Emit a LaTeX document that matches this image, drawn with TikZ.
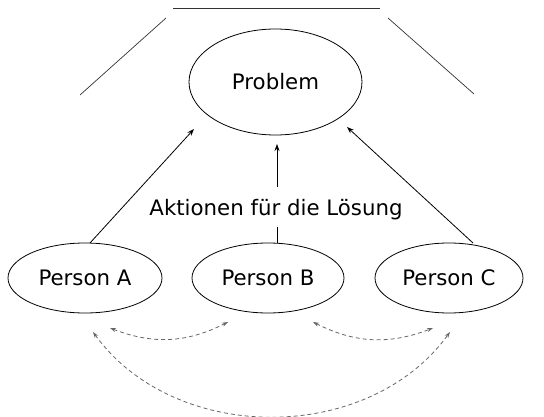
\documentclass[tikz,border=0pt]{standalone}
\usepackage{fontspec}
\setmainfont{DejaVu Sans}
\usetikzlibrary{shapes.geometric,arrows.meta}
\begin{document}
\begin{tikzpicture}[x=1pt,y=1pt,
  every node/.style={font=\fontsize{21.3}{25}\selectfont},
  oval/.style={draw,ellipse,inner sep=0pt,line width=0.8pt},
  flow/.style={line width=0.8pt,-{Stealth[length=7pt,width=5pt]}},
  plain/.style={line width=0.8pt},
  relation/.style={gray!80!black,dashed,dash pattern=on 4pt off 3pt,line width=0.8pt,
    {Stealth[length=6pt,width=4pt]}-{Stealth[length=6pt,width=4pt]}},
  frame/.style={line width=0.7pt,black!80}]
\useasboundingbox (0,0) rectangle (544,-417);

% frame strokes above the problem
\draw[frame] (173,-8) -- (380,-8);
\draw[frame] (166,-18) -- (80,-95);
\draw[frame] (388,-18) -- (474,-94);

% nodes
\node[oval,minimum width=173pt,minimum height=106pt] (P) at (275.5,-82) {Problem};
\node[oval,minimum width=154pt,minimum height=70pt] (A) at (85,-278) {Person A};
\node[oval,minimum width=152pt,minimum height=70pt] (B) at (268,-278) {Person B};
\node[oval,minimum width=148pt,minimum height=70pt] (C) at (449,-278) {Person C};
\node[inner sep=0pt] (L) at (276,-210) {Aktionen für die Lösung};

% arrow targets below the problem
\coordinate (tA) at (194,-129);
\coordinate (tB) at (277,-144);
\coordinate (tC) at (347,-127);
\coordinate (sA) at (90,-243);
\coordinate (sB) at (277,-243);
\coordinate (sC) at (473,-243);

\draw[flow] (sA) -- (tA);
\draw[flow] (sC) -- (tC);
\draw[plain] (sB) -- (277,-227);
\draw[flow] (277,-187) -- (tB);

% interactions between persons
\coordinate (ab1) at (110,-328);
\coordinate (ab2) at (228,-322);
\coordinate (bc1) at (313,-322);
\coordinate (bc2) at (433,-328);
\coordinate (ac1) at (93,-332);
\coordinate (ac2) at (450,-332);
\draw[relation] (ab1) to[bend right=24] (ab2);
\draw[relation] (bc1) to[bend right=24] (bc2);
\draw[relation] (ac1) to[bend right=54] (ac2);
\end{tikzpicture}
\end{document}
